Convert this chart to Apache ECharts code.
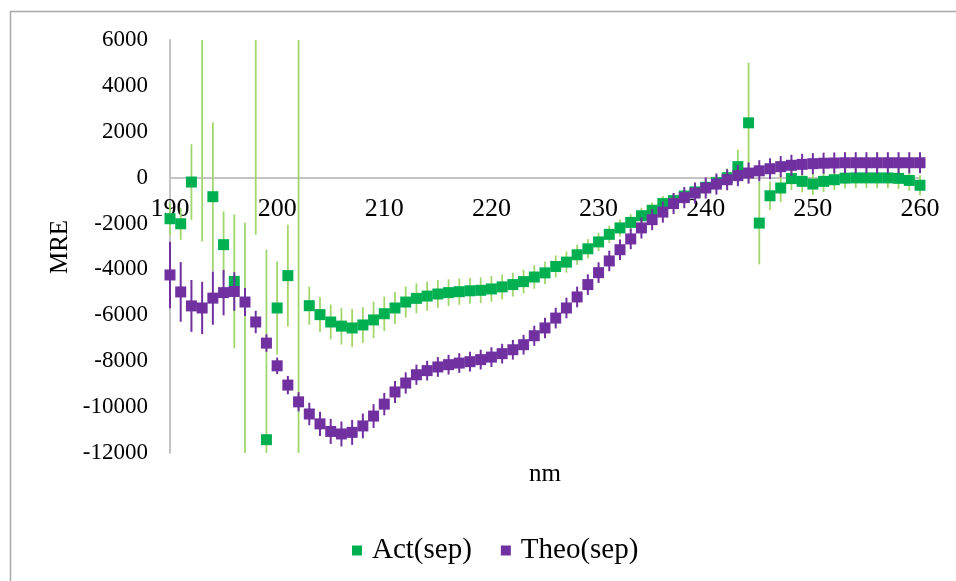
<!DOCTYPE html>
<html><head><meta charset="utf-8">
<script src="https://cdn.jsdelivr.net/npm/echarts@6/dist/echarts.min.js"></script>
<style>html,body{margin:0;padding:0;background:#fff}#c{width:956px;height:581px}</style>
</head><body><div id="c"></div>
<script>
const nm = [];
for (let i = 190; i <= 260; i++) nm.push(i);
const xTicks = [190, 200, 210, 220, 230, 240, 250, 260];
const yTicks = [-12000, -10000, -8000, -6000, -4000, -2000, 0, 2000, 4000, 6000];

const actValues = [
  -1790, -2010, -190, 8000, -830, -2920, -4520, -14000, 8000, -11420,
  -5680, -4270, -14000, -5580, -5970, -6290, -6470, -6550, -6420, -6200,
  -5930, -5680, -5420, -5260, -5160, -5070, -5010, -4970, -4930, -4910,
  -4850, -4760, -4660, -4530, -4330, -4150, -3870, -3680, -3360, -3100,
  -2800, -2470, -2190, -1950, -1660, -1420, -1130, -1000, -800, -620,
  -420, -220, 0, 480, 2390, -1980, -790, -450, -40, -160,
  -280, -160, -90, -20, -10, -10, -10, -10, -30, -120,
  -330
];
const actErr = [
  700, 700, 1650, 10780, 3240, 1450, 2920, 12040, 10490, 8280,
  2030, 2220, 21000, 830, 760, 760, 800, 830, 780, 800,
  750, 700, 680, 650, 640, 600, 580, 570, 560, 560,
  560, 540, 520, 520, 510, 500, 480, 460, 440, 420,
  400, 380, 370, 360, 350, 340, 330, 330, 330, 340,
  350, 360, 400, 740, 2620, 1800, 620, 620, 500, 480,
  470, 460, 450, 450, 450, 450, 450, 450, 450, 450,
  440
];
const theoValues = [
  -4240, -4980, -5590, -5680, -5250, -5010, -4960, -5420, -6290, -7210,
  -8200, -9040, -9770, -10300, -10730, -11060, -11170, -11100, -10820, -10390,
  -9870, -9340, -8950, -8590, -8410, -8250, -8150, -8080, -8020, -7930,
  -7820, -7670, -7500, -7280, -6890, -6550, -6120, -5680, -5200, -4660,
  -4140, -3630, -3140, -2670, -2190, -1830, -1500, -1130, -870, -670,
  -450, -280, -90, 90, 200, 300, 390, 480, 540, 580,
  610, 630, 640, 650, 650, 650, 650, 650, 650, 650,
  650
];
const theoErr = [
  1450, 1300, 1130, 1140, 1160, 990, 840, 610, 490, 380,
  360, 400, 420, 490, 530, 545, 545, 545, 540, 520,
  490, 480, 465, 440, 430, 430, 430, 430, 430, 430,
  430, 430, 430, 430, 440, 450, 450, 450, 450, 450,
  450, 450, 450, 450, 460, 460, 460, 460, 460, 460,
  460, 460, 460, 460, 460, 460, 460, 460, 460, 460,
  460, 460, 460, 460, 460, 460, 460, 460, 460, 460,
  460
];

const Y_MIN = -12000, Y_MAX = 6000;
const GRID_TOP = 40, GRID_BOTTOM = 128, H = 581;
const plotH = H - GRID_TOP - GRID_BOTTOM;
const zeroOffset = -plotH * (0 - Y_MIN) / (Y_MAX - Y_MIN);
const serif = '"Liberation Serif", "Times New Roman", serif';

function errData(vals, errs) {
  return nm.map((x, i) => [x, vals[i] - errs[i], vals[i] + errs[i]]);
}
function errRenderer(color, width) {
  return function (params, api) {
    const x = api.value(0);
    const lo = Math.max(api.value(1), Y_MIN);
    const hi = Math.min(api.value(2), Y_MAX);
    if (lo > hi) return;
    const p1 = api.coord([x, hi]);
    const p2 = api.coord([x, lo]);
    return {
      type: 'line',
      shape: { x1: p1[0], y1: p1[1], x2: p2[0], y2: p2[1] },
      style: { stroke: color, lineWidth: width }
    };
  };
}

const chart = echarts.init(document.getElementById('c'), null, { renderer: 'canvas' });
chart.setOption({
  animation: false,
  backgroundColor: '#ffffff',
  grid: { left: 170, right: 36, top: GRID_TOP, bottom: GRID_BOTTOM, containLabel: false },
  xAxis: {
    type: 'value', min: 190, max: 260, interval: 10,
    position: 'bottom', offset: zeroOffset,
    axisLine: { show: true, onZero: false, lineStyle: { color: '#c4c4c4', width: 2 } },
    axisTick: { show: false },
    splitLine: { show: false },
    axisLabel: { margin: 19, fontFamily: serif, fontSize: 26, color: '#000',
      formatter: v => xTicks.includes(v) ? String(v) : '' }
  },
  yAxis: {
    type: 'value', min: Y_MIN, max: Y_MAX, interval: 2000,
    axisLine: { show: true, onZero: false, lineStyle: { color: '#c4c4c4', width: 2 } },
    axisTick: { show: false },
    splitLine: { show: false },
    axisLabel: { margin: 22, fontFamily: serif, fontSize: 23, color: '#000',
      formatter: v => yTicks.includes(v) ? String(v) : '' }
  },
  legend: {
    data: ['Act(sep)', 'Theo(sep)'],
    left: 347, top: 531,
    itemWidth: 10, itemHeight: 10, itemGap: 29,
    icon: 'rect',
    textStyle: { fontFamily: serif, fontSize: 29, color: '#000', padding: [0, 0, 0, 5] }
  },
  graphic: [
    { type: 'rect', silent: true, shape: { x: 10.5, y: 11.5, width: 1000, height: 1000 },
      style: { fill: 'none', stroke: '#a9a9a9', lineWidth: 1.5 }, z: 100 },
    { type: 'text', x: 545, y: 474, silent: true,
      style: { text: 'nm', fontFamily: serif, fontSize: 25,
        fill: '#000', textAlign: 'center', textVerticalAlign: 'middle' } },
    { type: 'text', rotation: Math.PI / 2, x: 60, y: 247, silent: true,
      style: { text: 'MRE', fontFamily: serif, fontSize: 25, fill: '#000',
        textAlign: 'center', textVerticalAlign: 'middle' } }
  ],
  series: [
    { name: 'Act err', type: 'custom', renderItem: errRenderer('#a0d66c', 1.8),
      data: errData(actValues, actErr), encode: { x: 0, y: [1, 2] }, z: 1, silent: true },
    { name: 'Act(sep)', type: 'scatter', symbol: 'rect', symbolSize: 11, clip: true,
      itemStyle: { color: '#00b050', opacity: 1 }, data: nm.map((x, i) => [x, actValues[i]]), z: 2 },
    { name: 'Theo err', type: 'custom', renderItem: errRenderer('#7030a0', 2),
      data: errData(theoValues, theoErr), encode: { x: 0, y: [1, 2] }, z: 3, silent: true },
    { name: 'Theo(sep)', type: 'scatter', symbol: 'rect', symbolSize: 11, clip: true,
      itemStyle: { color: '#7030a0', opacity: 1 }, data: nm.map((x, i) => [x, theoValues[i]]), z: 4 }
  ]
});
</script></body></html>
